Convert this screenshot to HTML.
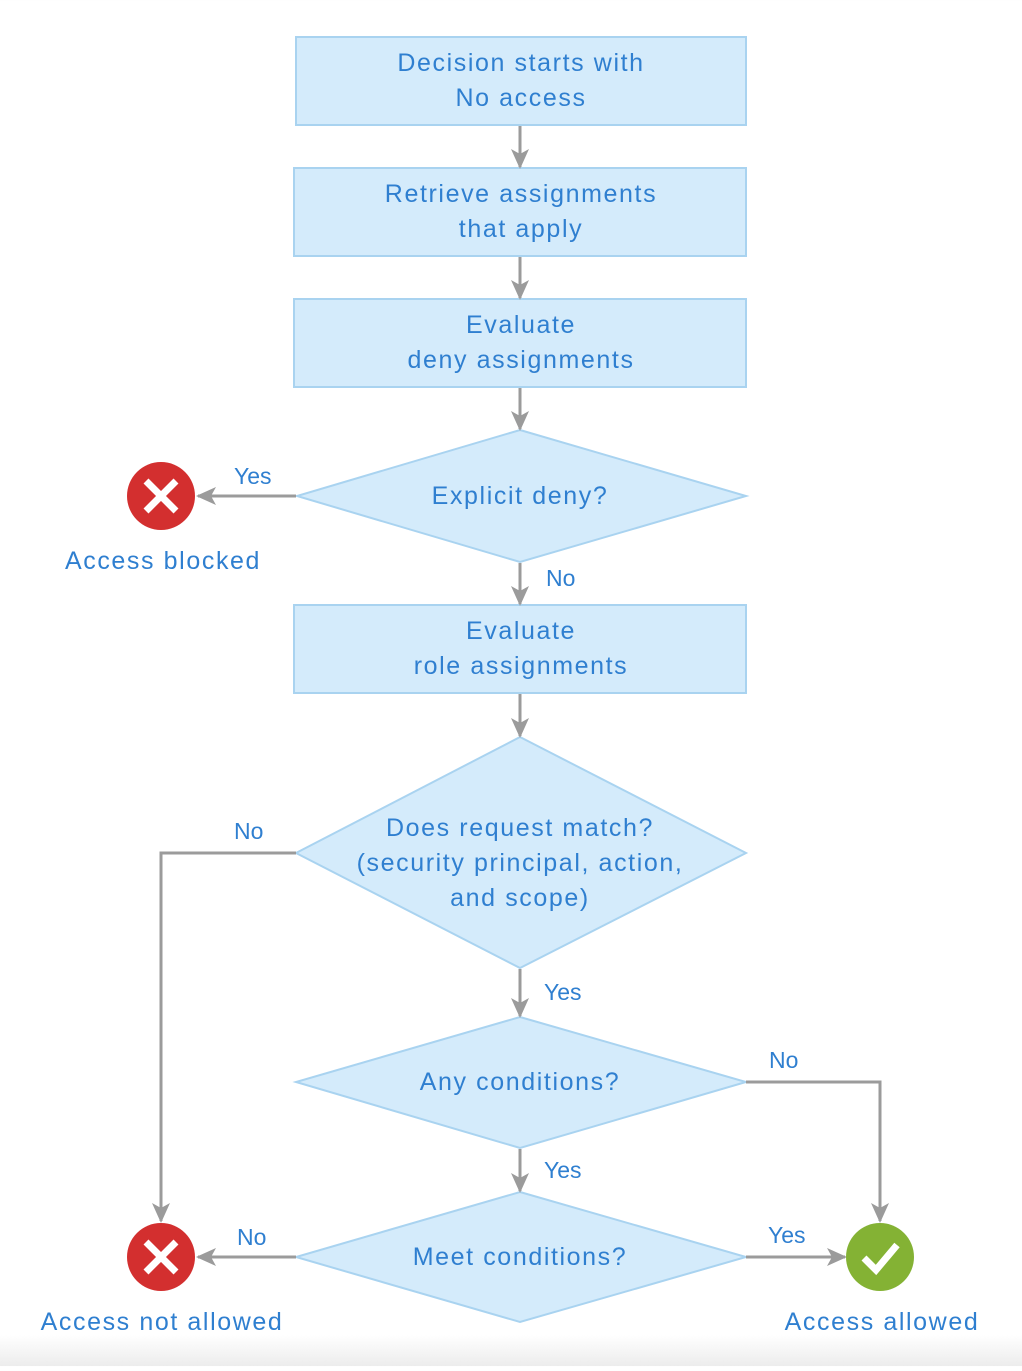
<!DOCTYPE html>
<html><head><meta charset="utf-8"><style>
body{margin:0;width:1022px;height:1366px;overflow:hidden;background:linear-gradient(#fff 0,#fff 1335px,#ececec 1366px);}
text{font-family:"Liberation Sans",sans-serif;fill:#2f7fd0;font-size:25px;}
.m text{letter-spacing:1.6px;}
</style></head><body>
<svg width="1022" height="1366" xmlns="http://www.w3.org/2000/svg">
<defs>
<marker id="b" markerWidth="20" markerHeight="20" refX="18" refY="10" orient="auto" markerUnits="userSpaceOnUse" viewBox="0 0 20 20"><path d="M0,1 L20,10 L0,19 L5,10 z" fill="#9b9b9b"/></marker></defs>
<g fill="#d4ebfb" stroke="#a9d3f0" stroke-width="2">
<rect x="296" y="37" width="450" height="88"/>
<rect x="294" y="168" width="452" height="88"/>
<rect x="294" y="299" width="452" height="88"/>
<polygon points="520,430 746,496 520,562 297,496"/>
<rect x="294" y="605" width="452" height="88"/>
<polygon points="520,737 746,853 520,968 296,853"/>
<polygon points="520,1017 746,1082 520,1148 296,1082"/>
<polygon points="520,1192 746,1257 520,1322 296,1257"/>
</g>
<g stroke="#9b9b9b" stroke-width="3" fill="none" marker-end="url(#b)">
<line x1="520" y1="126" x2="520" y2="167"/>
<line x1="520" y1="257" x2="520" y2="298"/>
<line x1="520" y1="388" x2="520" y2="429"/>
<line x1="296" y1="496" x2="198" y2="496"/>
<line x1="520" y1="563" x2="520" y2="604"/>
<line x1="520" y1="694" x2="520" y2="736"/>
<polyline points="296,853 161,853 161,1221"/>
<line x1="520" y1="969" x2="520" y2="1016"/>
<polyline points="746,1082 880,1082 880,1221"/>
<line x1="520" y1="1149" x2="520" y2="1191"/>
<line x1="296" y1="1257" x2="198" y2="1257"/>
<line x1="746" y1="1257" x2="845" y2="1257"/>
</g>
<circle cx="161" cy="496" r="34" fill="#d32f2f"/>
<path d="M146,481 L176,511 M176,481 L146,511" stroke="#fff" stroke-width="7"/>
<circle cx="161" cy="1257" r="34" fill="#d32f2f"/>
<path d="M146,1242 L176,1272 M176,1242 L146,1272" stroke="#fff" stroke-width="7"/>
<circle cx="880" cy="1257" r="34" fill="#84b234"/>
<path d="M864,1258 L876,1270 L897,1245" stroke="#fff" stroke-width="7" fill="none"/>
<g text-anchor="middle" class="m">
<text x="521" y="71">Decision starts with</text><text x="521" y="106">No access</text>
<text x="521" y="202">Retrieve assignments</text><text x="521" y="237">that apply</text>
<text x="521" y="333">Evaluate</text><text x="521" y="368">deny assignments</text>
<text x="520" y="504">Explicit deny?</text>
<text x="521" y="639">Evaluate</text><text x="521" y="674">role assignments</text>
<text x="520" y="836">Does request match?</text><text x="520" y="871">(security principal, action,</text><text x="520" y="906">and scope)</text>
<text x="520" y="1090">Any conditions?</text>
<text x="520" y="1265">Meet conditions?</text>
<text x="163" y="569">Access blocked</text>
<text x="162" y="1330">Access not allowed</text>
<text x="882" y="1330">Access allowed</text>
</g>
<g>
<text x="234" y="484" style="font-size:23px">Yes</text>
<text x="546" y="586" style="font-size:23px">No</text>
<text x="234" y="839" style="font-size:23px">No</text>
<text x="544" y="1000" style="font-size:23px">Yes</text>
<text x="769" y="1068" style="font-size:23px">No</text>
<text x="544" y="1178" style="font-size:23px">Yes</text>
<text x="237" y="1245" style="font-size:23px">No</text>
<text x="768" y="1243" style="font-size:23px">Yes</text>
</g>
</svg>
</body></html>
